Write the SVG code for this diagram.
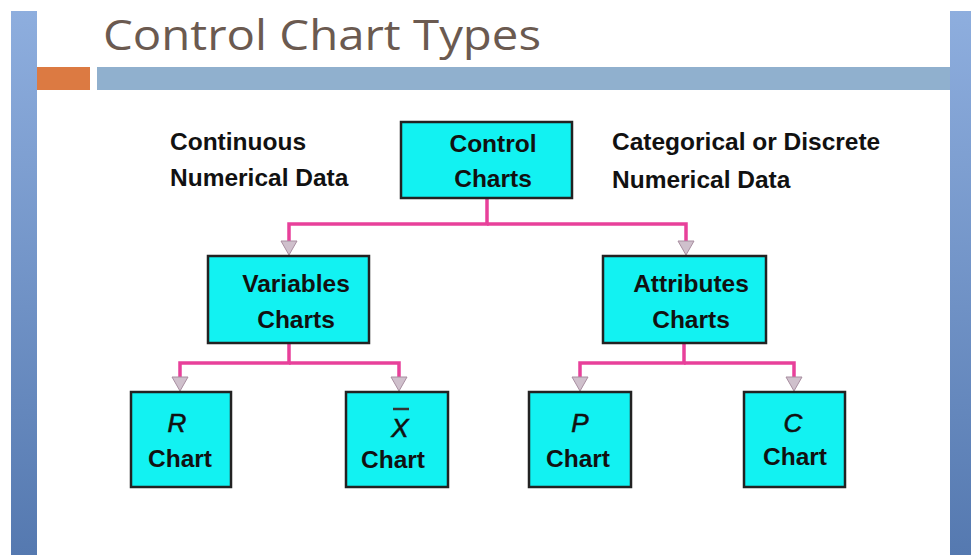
<svg xmlns="http://www.w3.org/2000/svg" width="971" height="555" viewBox="0 0 971 555">
<defs>
<linearGradient id="side" x1="0" y1="0" x2="0" y2="1">
<stop offset="0" stop-color="#8eaede"/>
<stop offset="1" stop-color="#5579b0"/>
</linearGradient>
<marker id="arr" markerWidth="18" markerHeight="16" refX="9" refY="1" orient="0" markerUnits="userSpaceOnUse" viewBox="0 0 18 16">
<path d="M1,1 L17,1 L9,15 Z" fill="#cfc0cc" stroke="#a88ea0" stroke-width="1"/>
</marker>
<style>
.box{fill:#12f2f2;stroke:#222;stroke-width:2.5}
.t{font-family:"Liberation Sans",Arial,sans-serif;font-weight:bold;font-size:24.5px;fill:#111}
.c{text-anchor:middle}
.i{font-style:italic;font-weight:normal;font-size:26px;stroke:#111;stroke-width:0.6}
.conn{fill:none;stroke:#e8409a;stroke-width:3.5}
</style>
</defs>
<rect width="971" height="555" fill="#ffffff"/>
<rect x="11" y="11" width="26" height="544" fill="url(#side)"/>
<rect x="950" y="11" width="21" height="544" fill="url(#side)"/>
<rect x="37" y="67" width="53" height="23" fill="#dc7a42"/>
<rect x="97" y="67" width="853" height="23" fill="#90b0ce"/>
<text x="103" y="50" font-family="'Open Sans','Liberation Sans',sans-serif" font-size="42" fill="#6b5a50" textLength="438" lengthAdjust="spacingAndGlyphs">Control Chart Types</text>

<text class="t" x="170" y="150">Continuous</text>
<text class="t" x="170" y="186">Numerical Data</text>
<text class="t" x="612" y="150">Categorical or Discrete</text>
<text class="t" x="612" y="188">Numerical Data</text>

<g id="connectors">
<path class="conn" d="M487,199 V224 H289 V241" marker-end="url(#arr)"/>
<path class="conn" d="M487,224 H686 V241" marker-end="url(#arr)"/>
<path class="conn" d="M289,344 V363 H180 V377" marker-end="url(#arr)"/>
<path class="conn" d="M289,363 H399 V377" marker-end="url(#arr)"/>
<path class="conn" d="M684,344 V363 H580 V377" marker-end="url(#arr)"/>
<path class="conn" d="M684,363 H794 V377" marker-end="url(#arr)"/>
</g>

<g id="control">
<rect class="box" x="401" y="122" width="171" height="76"/>
<text class="t c" x="493" y="152">Control</text>
<text class="t c" x="493" y="187">Charts</text>
</g>
<g id="variables">
<rect class="box" x="208" y="256" width="161" height="87"/>
<text class="t c" x="296" y="292">Variables</text>
<text class="t c" x="296" y="328">Charts</text>
</g>
<g id="attributes">
<rect class="box" x="603" y="256" width="163" height="87"/>
<text class="t c" x="691" y="292">Attributes</text>
<text class="t c" x="691" y="328">Charts</text>
</g>
<g id="rchart">
<rect class="box" x="131" y="392" width="100" height="95"/>
<text class="t c i" x="177" y="432">R</text>
<text class="t c" x="180" y="467">Chart</text>
</g>
<g id="xchart">
<rect class="box" x="346" y="392" width="102" height="95"/>
<line x1="393" y1="409" x2="409" y2="409" stroke="#333" stroke-width="2.5"/>
<text class="t c i" x="400" y="437">X</text>
<text class="t c" x="393" y="468">Chart</text>
</g>
<g id="pchart">
<rect class="box" x="529" y="392" width="102" height="95"/>
<text class="t c i" x="580" y="432">P</text>
<text class="t c" x="578" y="467">Chart</text>
</g>
<g id="cchart">
<rect class="box" x="744" y="392" width="101" height="95"/>
<text class="t c i" x="793" y="432">C</text>
<text class="t c" x="795" y="465">Chart</text>
</g>
</svg>
